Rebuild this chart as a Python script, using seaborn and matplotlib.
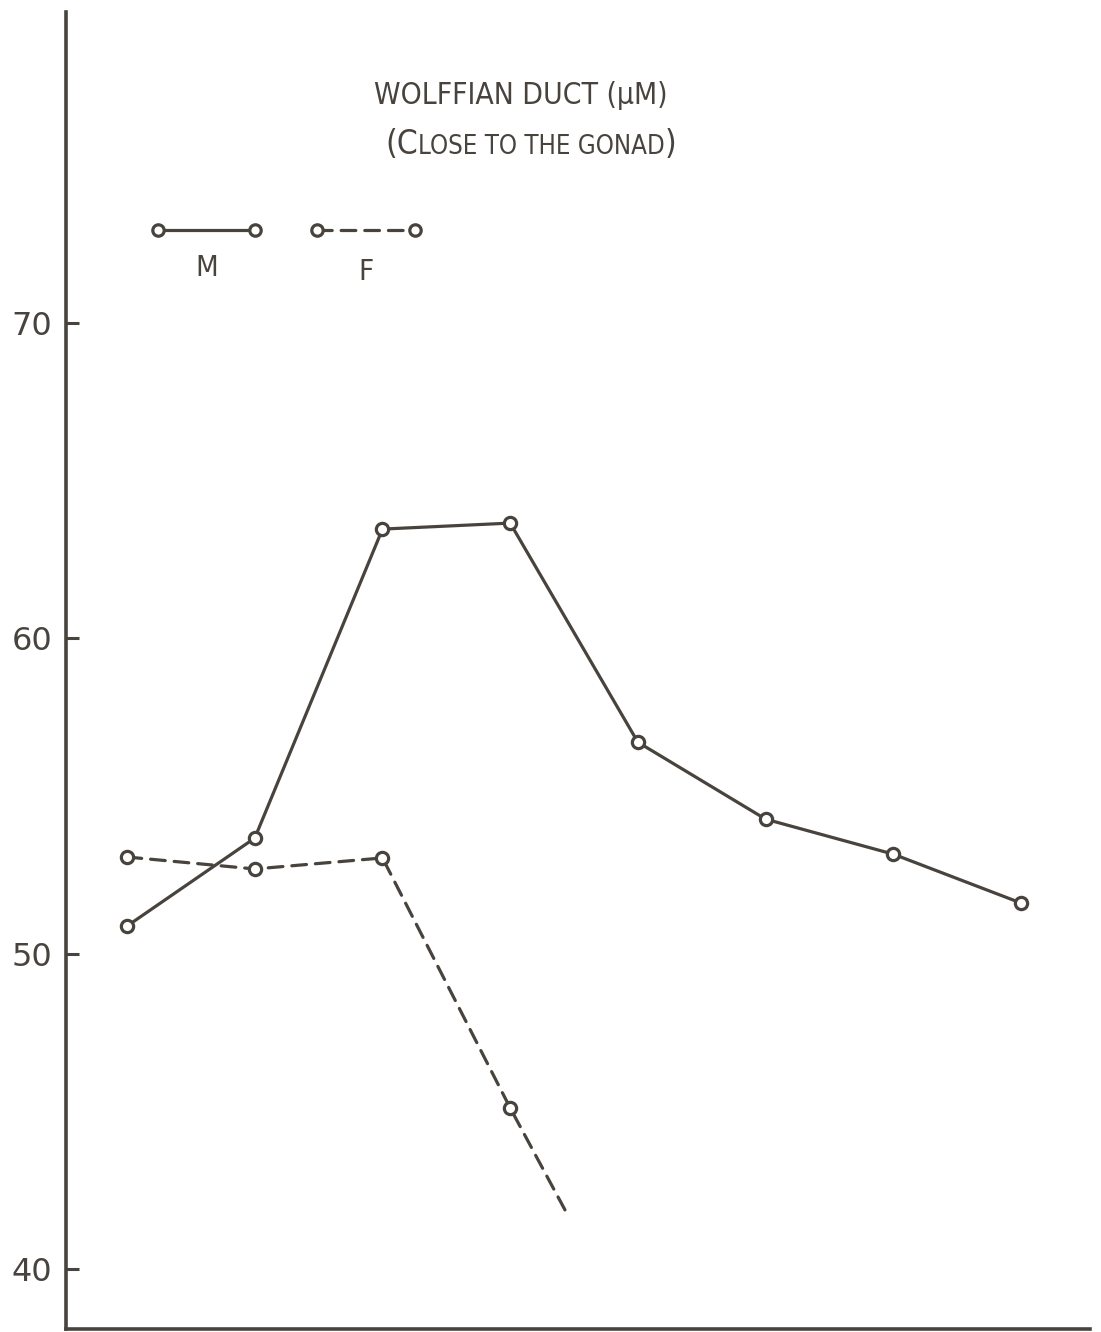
import matplotlib
matplotlib.use('Agg')
import matplotlib.pyplot as plt
from matplotlib.lines import Line2D
import seaborn as sns
import pandas as pd

# ---- data ----
stages = [1, 2, 3, 4, 5, 6, 7, 8]
male = [50.88, 53.67, 63.47, 63.66, 56.71, 54.27, 53.16, 51.61]
female_stages = [1, 2, 3, 4]
female = [53.07, 52.69, 53.04, 45.11]
female_tail_stage = [4.43]
female_tail = [41.87]
yticks = [40, 50, 60, 70]
title_line1 = "WOLFFIAN DUCT (μM)"
title_line2 = ["(C", "LOSE TO THE GONAD", ")"]
legend_labels = ["M", "F"]

INK = '#48433d'
W, H = 1101, 1332

sns.set_theme(style='white')
plt.rcParams['font.family'] = ['DejaVu Sans']

fig = plt.figure(figsize=(W / 100, H / 100), dpi=100, facecolor='white')
ax = fig.add_axes([66 / W, 3 / H, (1090 - 66) / W, (1329 - 12) / H])
ax.set_facecolor('white')

df_m = pd.DataFrame({'stage': stages, 'value': male})
df_f_line = pd.DataFrame({'stage': female_stages + female_tail_stage,
                          'value': female + female_tail})
df_f_pts = pd.DataFrame({'stage': female_stages, 'value': female})

LW = 2.3
DASH = (0, (4.6, 2.8))
sns.lineplot(data=df_m, x='stage', y='value', ax=ax, color=INK, lw=LW,
             zorder=2, solid_capstyle='round')
sns.lineplot(data=df_f_line, x='stage', y='value', ax=ax, color=INK, lw=LW,
             zorder=2, linestyle=DASH, dash_capstyle='round')
sns.scatterplot(data=df_m, x='stage', y='value', ax=ax, marker='o', s=78,
                color='white', edgecolor=INK, linewidth=2.3, zorder=3)
sns.scatterplot(data=df_f_pts, x='stage', y='value', ax=ax, marker='o', s=78,
                color='white', edgecolor=INK, linewidth=2.3, zorder=3)

ax.set_xlim(0.522, 8.54)
ax.set_ylim(38.1, 79.87)
ax.set_xticks([])
ax.set_yticks(yticks)
ax.set_yticklabels([str(v) for v in yticks])
ax.set_xlabel('')
ax.set_ylabel('')
ax.tick_params(axis='y', direction='in', length=9, width=2.2, pad=10,
               labelsize=23, colors=INK, left=True)
sns.despine(ax=ax)
for s in ['left', 'bottom']:
    ax.spines[s].set_linewidth(2.6)
    ax.spines[s].set_color(INK)

# ---- legend (drawn as in the original: handle above, label below) ----
def fx(px):
    return px / W

def fy(py):
    return (H - py) / H

TFAM = ['DejaVu Sans']
for (x0, x1, ls, lab, ly) in [(158, 255, '-', legend_labels[0], 268),
                              (317, 415, DASH, legend_labels[1], 272)]:
    fig.add_artist(Line2D([fx(x0), fx(x1)], [fy(230), fy(230)],
                          transform=fig.transFigure, color=INK, lw=LW,
                          linestyle=ls, dash_capstyle='round', zorder=2))
    fig.add_artist(Line2D([fx(x0), fx(x1)], [fy(230), fy(230)],
                          transform=fig.transFigure, linestyle='none',
                          marker='o', markersize=8.2, markerfacecolor='white',
                          markeredgecolor=INK, markeredgewidth=2.3, zorder=3))
    fig.text(fx((x0 + x1) / 2), fy(ly), lab, ha='center', va='center',
             fontsize=21, color=INK, family=TFAM, fontstretch='condensed')

# ---- title ----
fig.text(fx(521), fy(104), title_line1, ha='center', va='baseline',
         fontsize=21.5, color=INK, family=TFAM, fontstretch='condensed')

sizes = [24, 18.5, 24]
parts = [fig.text(0, fy(154), t, ha='left', va='baseline', fontsize=sz,
                  color=INK, family=TFAM, fontstretch='condensed')
         for t, sz in zip(title_line2, sizes)]
renderer = fig.canvas.get_renderer()
widths = [p.get_window_extent(renderer).width for p in parts]
gap = 0
total = sum(widths) + gap * (len(widths) - 1)
xcur = 531 - total / 2
for p, w in zip(parts, widths):
    p.set_x(xcur / W)
    xcur += w + gap

fig.savefig('out.png', dpi=100, facecolor='white')
